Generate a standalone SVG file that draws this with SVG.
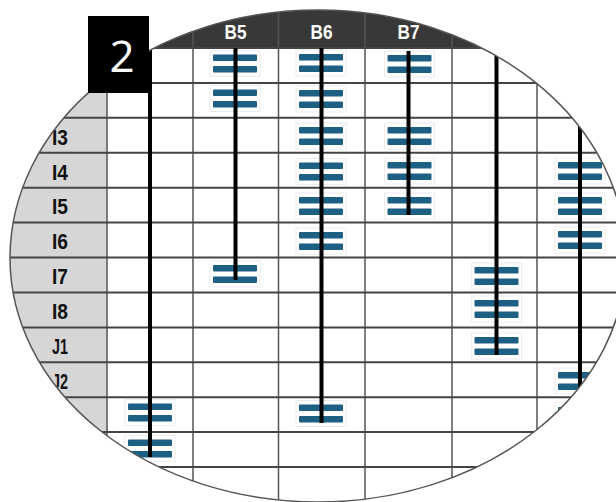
<svg xmlns="http://www.w3.org/2000/svg" xmlns:xlink="http://www.w3.org/1999/xlink" width="616" height="502" viewBox="0 0 616 502">
<style>
.hl{stroke:#444;stroke-width:2}
.vl{stroke:#555;stroke-width:1.5}
.bar{fill:#1e5f84}
.wire{stroke:#000;stroke-width:4;fill:none}
.hd{font-family:"Liberation Sans",Arial,sans-serif;font-weight:bold;font-size:21px;fill:#fff;text-anchor:middle}
.rl{font-family:"Liberation Sans",Arial,sans-serif;font-weight:bold;font-size:22px;fill:#111;text-anchor:middle}
</style>
<defs>
<clipPath id="lens"><path d="M10 258 A308 248 0 0 1 626 258 A308 244 0 0 1 10 258 Z"/></clipPath>
<g id="ic"><rect x="-25" y="-13" width="50" height="26" fill="#fff" stroke="#ececec" stroke-width="1"/><rect class="bar" x="-22" y="-9" width="44" height="6.5" rx="1"/><rect class="bar" x="-22" y="2.5" width="44" height="6.5" rx="1"/></g>
</defs>
<rect width="616" height="502" fill="#fff"/>
<g clip-path="url(#lens)">
<rect x="0" y="0" width="616" height="502" fill="#fff"/>
<g id="labels-column">
<rect x="0" y="48" width="107" height="460" fill="#d6d6d6"/>
<text class="rl" x="60" y="145" textLength="16" lengthAdjust="spacingAndGlyphs">I3</text>
<text class="rl" x="60" y="179.5" textLength="16" lengthAdjust="spacingAndGlyphs">I4</text>
<text class="rl" x="60" y="214.3" textLength="16" lengthAdjust="spacingAndGlyphs">I5</text>
<text class="rl" x="60" y="249.3" textLength="16" lengthAdjust="spacingAndGlyphs">I6</text>
<text class="rl" x="60" y="284.3" textLength="16" lengthAdjust="spacingAndGlyphs">I7</text>
<text class="rl" x="60" y="319.2" textLength="16" lengthAdjust="spacingAndGlyphs">I8</text>
<text class="rl" x="60" y="354" textLength="16" lengthAdjust="spacingAndGlyphs">J1</text>
<text class="rl" x="60" y="389" textLength="16" lengthAdjust="spacingAndGlyphs">J2</text>
</g>
<g id="header">
<rect x="0" y="0" width="640" height="48" fill="#383838"/>
<text class="hd" x="235.5" y="38.5" textLength="22" lengthAdjust="spacingAndGlyphs">B5</text>
<text class="hd" x="321.5" y="38.5" textLength="22" lengthAdjust="spacingAndGlyphs">B6</text>
<text class="hd" x="408.5" y="38.5" textLength="22" lengthAdjust="spacingAndGlyphs">B7</text>
</g>
<g id="grid">
<line class="vl" x1="107" y1="48" x2="107" y2="510"/>
<line class="vl" x1="193" y1="0" x2="193" y2="510"/>
<line class="vl" x1="278.5" y1="0" x2="278.5" y2="510"/>
<line class="vl" x1="365" y1="0" x2="365" y2="510"/>
<line class="vl" x1="452" y1="0" x2="452" y2="510"/>
<line class="vl" x1="537" y1="48" x2="537" y2="510"/>
<line class="hl" x1="0" y1="48" x2="640" y2="48"/>
<line class="hl" x1="0" y1="82.9" x2="640" y2="82.9"/>
<line class="hl" x1="0" y1="117.8" x2="640" y2="117.8"/>
<line class="hl" x1="0" y1="152.8" x2="640" y2="152.8"/>
<line class="hl" x1="0" y1="187.7" x2="640" y2="187.7"/>
<line class="hl" x1="0" y1="222.6" x2="640" y2="222.6"/>
<line class="hl" x1="0" y1="257.5" x2="640" y2="257.5"/>
<line class="hl" x1="0" y1="292.4" x2="640" y2="292.4"/>
<line class="hl" x1="0" y1="327.4" x2="640" y2="327.4"/>
<line class="hl" x1="0" y1="362.3" x2="640" y2="362.3"/>
<line class="hl" x1="0" y1="397.2" x2="640" y2="397.2"/>
<line class="hl" x1="0" y1="432.1" x2="640" y2="432.1"/>
<line class="hl" x1="0" y1="467" x2="640" y2="467"/>
</g>
<g id="icons">
<use xlink:href="#ic" x="235" y="63.5"/>
<use xlink:href="#ic" x="235" y="98.5"/>
<use xlink:href="#ic" x="235" y="274"/>
<use xlink:href="#ic" x="321" y="63"/>
<use xlink:href="#ic" x="321" y="99"/>
<use xlink:href="#ic" x="321" y="136"/>
<use xlink:href="#ic" x="321" y="171.5"/>
<use xlink:href="#ic" x="321" y="206"/>
<use xlink:href="#ic" x="321" y="241"/>
<use xlink:href="#ic" x="321" y="413.5"/>
<use xlink:href="#ic" x="409.5" y="64"/>
<use xlink:href="#ic" x="409.5" y="136"/>
<use xlink:href="#ic" x="409.5" y="171"/>
<use xlink:href="#ic" x="409.5" y="206"/>
<use xlink:href="#ic" x="496.5" y="276"/>
<use xlink:href="#ic" x="496.5" y="309"/>
<use xlink:href="#ic" x="496.5" y="346"/>
<use xlink:href="#ic" x="580" y="171"/>
<use xlink:href="#ic" x="580" y="206"/>
<use xlink:href="#ic" x="580" y="240"/>
<use xlink:href="#ic" x="580" y="381"/>
<use xlink:href="#ic" x="580" y="416"/>
<use xlink:href="#ic" x="150" y="412.5"/>
<use xlink:href="#ic" x="150" y="448.5"/>
</g>
<g id="connectors">
<line class="wire" x1="150" y1="40" x2="150" y2="457"/>
<line class="wire" x1="235.5" y1="48" x2="235.5" y2="280"/>
<line class="wire" x1="321.5" y1="48" x2="321.5" y2="423"/>
<line class="wire" x1="408.5" y1="51" x2="408.5" y2="215"/>
<line class="wire" x1="496.5" y1="40" x2="496.5" y2="355"/>
<line class="wire" x1="580" y1="100" x2="580" y2="430"/>
</g>
</g>
<path d="M10 258 A308 248 0 0 1 626 258 A308 244 0 0 1 10 258 Z" fill="none" stroke="#555" stroke-width="1.5"/>
<g id="step-badge">
<rect x="88" y="16" width="61" height="77" fill="#000"/>
<text x="122" y="72" font-family="'Open Sans','Liberation Sans',sans-serif" font-size="44" fill="#fff" text-anchor="middle">2</text>
</g>
</svg>
